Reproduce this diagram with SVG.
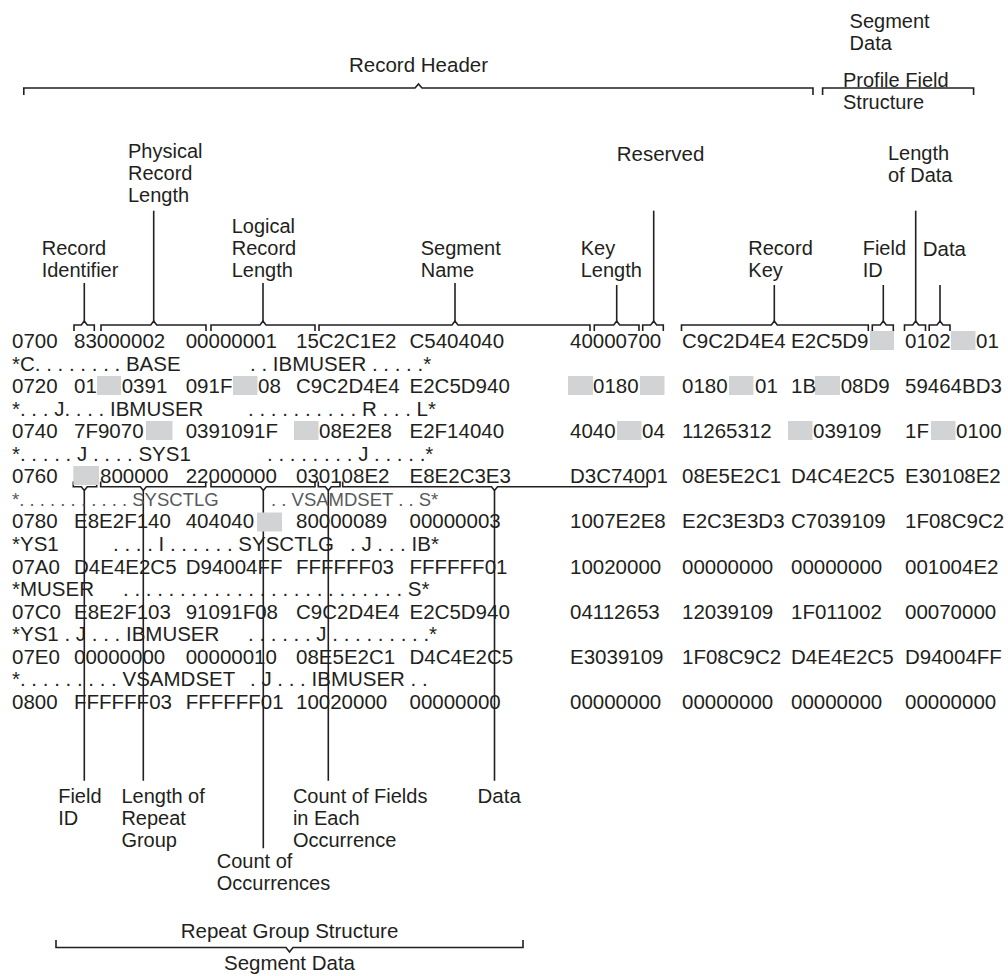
<svg xmlns="http://www.w3.org/2000/svg" width="1008" height="976" viewBox="0 0 1008 976">
<style>
.t{font-family:"Liberation Sans",Arial,Helvetica,sans-serif;font-size:20.5px;fill:#231f20}
.l{font-family:"Liberation Sans",Arial,Helvetica,sans-serif;font-size:20px;fill:#231f20}
.a2{font-size:18.5px;fill:#58595b}
.m{text-anchor:middle}
.g{fill:#d1d3d4}
.ln{stroke:#231f20;stroke-width:1.6;fill:none}
</style>
<rect width="1008" height="976" fill="#fff"/>

<g id="connectors" class="ln">
  <!-- top structural brackets -->
  <path d="M23.8,95 V88 H415 L418.5,84 L422,88 H813 V95"/>
  <path d="M822.6,95 V88 H973.6 V95"/>
  <!-- header field brackets -->
  <path d="M74,331 V325 H81.3 L84.3,321 L87.3,325 H94.3 V331"/>
  <path d="M101,331 V325 H150.7 L153.7,321 L156.7,325 H206 V331"/>
  <path d="M211,331 V325 H260 L263,321 L266,325 H315 V331"/>
  <path d="M319,331 V325 H452 L455,321 L458,325 H590 V331"/>
  <path d="M594.3,331 V325 H613.7 L616.7,321 L619.7,325 H639 V331"/>
  <path d="M642.7,331 V325 H650.7 L653.7,321 L656.7,325 H663.3 V331"/>
  <path d="M681.5,331 V325 H771.3 L774.3,321 L777.3,325 H868.3 V331"/>
  <path d="M872.3,331 V325 H880.3 L883.3,321 L886.3,325 H893.3 V331"/>
  <path d="M904.5,331 V325 H912.7 L915.7,321 L918.7,325 H925.5 V331"/>
  <path d="M929.2,331 V325 H937 L940,321 L943,325 H950 V331"/>
  <!-- header leader lines -->
  <line x1="84.3" y1="283" x2="84.3" y2="321"/>
  <line x1="153.7" y1="210.7" x2="153.7" y2="321"/>
  <line x1="263" y1="283" x2="263" y2="321"/>
  <line x1="455" y1="283" x2="455" y2="321"/>
  <line x1="616.7" y1="285" x2="616.7" y2="321"/>
  <line x1="653.7" y1="210.7" x2="653.7" y2="321"/>
  <line x1="774.3" y1="285" x2="774.3" y2="321"/>
  <line x1="883.3" y1="285" x2="883.3" y2="321"/>
  <line x1="915.7" y1="210.7" x2="915.7" y2="321"/>
  <line x1="940" y1="285" x2="940" y2="321"/>
  <!-- repeat group brackets (row 0760) -->
  <path d="M73.3,481.5 V486.7 H81.3 L84.3,490.5 L87.3,486.7 H96.7 V481.5"/>
  <path d="M100.7,481.5 V486.7 H140.3 L143.3,490.5 L146.3,486.7 H205.7 V481.5"/>
  <path d="M211,481.5 V486.7 H260.3 L263.3,490.5 L266.3,486.7 H315 V481.5"/>
  <path d="M318.3,481.5 V486.7 H325.3 L328.3,490.5 L331.3,486.7 H340 V481.5"/>
  <path d="M342.7,481.5 V486.7 H491.5 L494.5,490.5 L497.5,486.7 H647.3 V481.5"/>
  <!-- repeat group leader lines -->
  <line x1="84.3" y1="490.5" x2="84.3" y2="780.7"/>
  <line x1="143.3" y1="490.5" x2="143.3" y2="780.7"/>
  <line x1="263.3" y1="490.5" x2="263.3" y2="848.3"/>
  <line x1="328.3" y1="490.5" x2="328.3" y2="780.7"/>
  <line x1="494.5" y1="490.5" x2="494.5" y2="780.7"/>
  <!-- bottom bracket -->
  <path d="M56,940 V947.5 H286 L289.5,952 L293,947.5 H523 V940"/>
</g>

<g id="redactions">
  <rect class="g" x="870" y="331" width="24" height="19"/>
  <rect class="g" x="951" y="331" width="24.5" height="19"/>
  <rect class="g" x="97" y="376" width="24" height="19"/>
  <rect class="g" x="233" y="376" width="24.5" height="19"/>
  <rect class="g" x="568" y="376" width="25" height="19"/>
  <rect class="g" x="640" y="376" width="24.5" height="19"/>
  <rect class="g" x="729" y="376" width="24.5" height="19"/>
  <rect class="g" x="815" y="376" width="25" height="19"/>
  <rect class="g" x="146" y="421" width="26.5" height="19"/>
  <rect class="g" x="294" y="421" width="24.5" height="19"/>
  <rect class="g" x="617" y="421" width="24.5" height="19"/>
  <rect class="g" x="788" y="421" width="24.5" height="19"/>
  <rect class="g" x="931" y="421" width="24.5" height="19"/>
  <rect class="g" x="73.3" y="466" width="25.7" height="19"/>
  <rect class="g" x="257" y="512.5" width="25" height="19"/>
</g>

<g id="dump" class="t">
  <!-- 0700 -->
  <text x="12" y="348">0700</text><text x="74" y="348">83000002</text><text x="185.7" y="348">00000001</text><text x="296" y="348">15C2C1E2</text><text x="409.5" y="348">C5404040</text><text x="570" y="348">40000700</text><text x="682" y="348">C9C2D4E4</text><text x="791" y="348">E2C5D9</text><text x="905" y="348">0102</text><text x="976" y="348">01</text>
  <text x="12" y="370.5">*C. . . . . . . . BASE</text><text x="250" y="370.5">. . IBMUSER . . . . .*</text>
  <!-- 0720 -->
  <text x="12" y="393.1">0720</text><text x="74" y="393.1">01</text><text x="121.7" y="393.1">0391</text><text x="185.7" y="393.1">091F</text><text x="258" y="393.1">08</text><text x="296" y="393.1">C9C2D4E4</text><text x="409.5" y="393.1">E2C5D940</text><text x="593" y="393.1">0180</text><text x="682" y="393.1">0180</text><text x="755" y="393.1">01</text><text x="791" y="393.1">1B</text><text x="840.7" y="393.1">08D9</text><text x="905" y="393.1">59464BD3</text>
  <text x="12" y="415.6">*. . . J. . . . IBMUSER</text><text x="248" y="415.6">. . . . . . . . . . R . . . L*</text>
  <!-- 0740 -->
  <text x="12" y="438.2">0740</text><text x="74" y="438.2">7F9070</text><text x="185.7" y="438.2">0391091F</text><text x="319" y="438.2">08E2E8</text><text x="409.5" y="438.2">E2F14040</text><text x="570" y="438.2">4040</text><text x="642" y="438.2">04</text><text x="682" y="438.2">11265312</text><text x="813" y="438.2">039109</text><text x="905" y="438.2">1F</text><text x="956" y="438.2">0100</text>
  <text x="12" y="460.7">*. . . . . J . . . . SYS1</text><text x="267" y="460.7">. . . . . . . . J . . . . .*</text>
  <!-- 0760 -->
  <text x="12" y="483.3">0760</text><text x="100" y="483.3">800000</text><text x="185.7" y="483.3">22000000</text><text x="296" y="483.3">030108E2</text><text x="409.5" y="483.3">E8E2C3E3</text><text x="570" y="483.3">D3C74001</text><text x="682" y="483.3">08E5E2C1</text><text x="791" y="483.3">D4C4E2C5</text><text x="905" y="483.3">E30108E2</text>
  <text class="t a2" x="12" y="505.8">*. . . . . . . . . . . SYSCTLG</text><text class="t a2" x="271" y="505.8">. . VSAMDSET . . S*</text>
  <!-- 0780 -->
  <text x="12" y="528.4">0780</text><text x="74" y="528.4">E8E2F140</text><text x="185.7" y="528.4">404040</text><text x="296" y="528.4">80000089</text><text x="409.5" y="528.4">00000003</text><text x="570" y="528.4">1007E2E8</text><text x="682" y="528.4">E2C3E3D3</text><text x="791" y="528.4">C7039109</text><text x="905" y="528.4">1F08C9C2</text>
  <text x="12" y="550.9">*YS1</text><text x="113" y="550.9">. . . . I . . . . . . SYSCTLG</text><text x="350" y="550.9">. J . . . IB*</text>
  <!-- 07A0 -->
  <text x="12" y="573.5">07A0</text><text x="74" y="573.5">D4E4E2C5</text><text x="185.7" y="573.5">D94004FF</text><text x="296" y="573.5">FFFFFF03</text><text x="409.5" y="573.5">FFFFFF01</text><text x="570" y="573.5">10020000</text><text x="682" y="573.5">00000000</text><text x="791" y="573.5">00000000</text><text x="905" y="573.5">001004E2</text>
  <text x="12" y="596">*MUSER</text><text x="123" y="596">. . . . . . . . . . . . . . . . . . . . . . . . . S*</text>
  <!-- 07C0 -->
  <text x="12" y="618.6">07C0</text><text x="74" y="618.6">E8E2F103</text><text x="185.7" y="618.6">91091F08</text><text x="296" y="618.6">C9C2D4E4</text><text x="409.5" y="618.6">E2C5D940</text><text x="570" y="618.6">04112653</text><text x="682" y="618.6">12039109</text><text x="791" y="618.6">1F011002</text><text x="905" y="618.6">00070000</text>
  <text x="12" y="641.1">*YS1 . J . . . IBMUSER</text><text x="248" y="641.1">. . . . . . J . . . . . . . . .*</text>
  <!-- 07E0 -->
  <text x="12" y="663.7">07E0</text><text x="74" y="663.7">00000000</text><text x="185.7" y="663.7">00000010</text><text x="296" y="663.7">08E5E2C1</text><text x="409.5" y="663.7">D4C4E2C5</text><text x="570" y="663.7">E3039109</text><text x="682" y="663.7">1F08C9C2</text><text x="791" y="663.7">D4E4E2C5</text><text x="905" y="663.7">D94004FF</text>
  <text x="12" y="686.2">*. . . . . . . . . VSAMDSET</text><text x="250" y="686.2">. J . . . IBMUSER . .</text>
  <!-- 0800 -->
  <text x="12" y="708.8">0800</text><text x="74" y="708.8">FFFFFF03</text><text x="185.7" y="708.8">FFFFFF01</text><text x="296" y="708.8">10020000</text><text x="409.5" y="708.8">00000000</text><text x="570" y="708.8">00000000</text><text x="682" y="708.8">00000000</text><text x="791" y="708.8">00000000</text><text x="905" y="708.8">00000000</text>
</g>

<g id="segment-data-top"><text class="l" x="849.6" y="27.5">Segment<tspan x="849.6" dy="22">Data</tspan></text></g>
<g id="record-header"><text class="t" x="349" y="72">Record Header</text></g>
<g id="profile-field-structure"><text class="l" x="843" y="86.5">Profile Field<tspan x="843" dy="22">Structure</tspan></text></g>

<g id="physical-record-length"><text class="l" x="128" y="157.7">Physical<tspan x="128" dy="22">Record</tspan><tspan x="128" dy="22">Length</tspan></text></g>
<g id="reserved"><text class="t" x="616.7" y="160.7">Reserved</text></g>
<g id="length-of-data"><text class="l" x="888" y="159.7">Length<tspan x="888" dy="22">of Data</tspan></text></g>
<g id="logical-record-length"><text class="l" x="231.7" y="232.7">Logical<tspan x="231.7" dy="22">Record</tspan><tspan x="231.7" dy="22">Length</tspan></text></g>
<g id="record-identifier"><text class="l" x="41.7" y="254.7">Record<tspan x="41.7" dy="22">Identifier</tspan></text></g>
<g id="segment-name"><text class="l" x="420.7" y="254.7">Segment<tspan x="420.7" dy="22">Name</tspan></text></g>
<g id="key-length"><text class="l" x="580.7" y="254.7">Key<tspan x="580.7" dy="22">Length</tspan></text></g>
<g id="record-key"><text class="l" x="748.3" y="254.7">Record<tspan x="748.3" dy="22">Key</tspan></text></g>
<g id="field-id-top"><text class="l" x="862.7" y="254.7">Field<tspan x="862.7" dy="22">ID</tspan></text></g>
<g id="data-top"><text class="t" x="922.7" y="255.5">Data</text></g>

<g id="field-id-bottom"><text class="l" x="58.2" y="803">Field<tspan x="58.2" dy="22">ID</tspan></text></g>
<g id="length-of-repeat-group"><text class="l" x="121.4" y="803">Length of<tspan x="121.4" dy="22">Repeat</tspan><tspan x="121.4" dy="22">Group</tspan></text></g>
<g id="count-of-fields"><text class="l" x="292.9" y="803">Count of Fields<tspan x="292.9" dy="22">in Each</tspan><tspan x="292.9" dy="22">Occurrence</tspan></text></g>
<g id="data-bottom"><text class="t" x="477.5" y="803">Data</text></g>
<g id="count-of-occurrences"><text class="l" x="216.8" y="868">Count of<tspan x="216.8" dy="22">Occurrences</tspan></text></g>
<g id="repeat-group-structure"><text class="t m" x="289.5" y="938">Repeat Group Structure</text></g>
<g id="segment-data-bottom"><text class="t m" x="289.5" y="970">Segment Data</text></g>
</svg>
